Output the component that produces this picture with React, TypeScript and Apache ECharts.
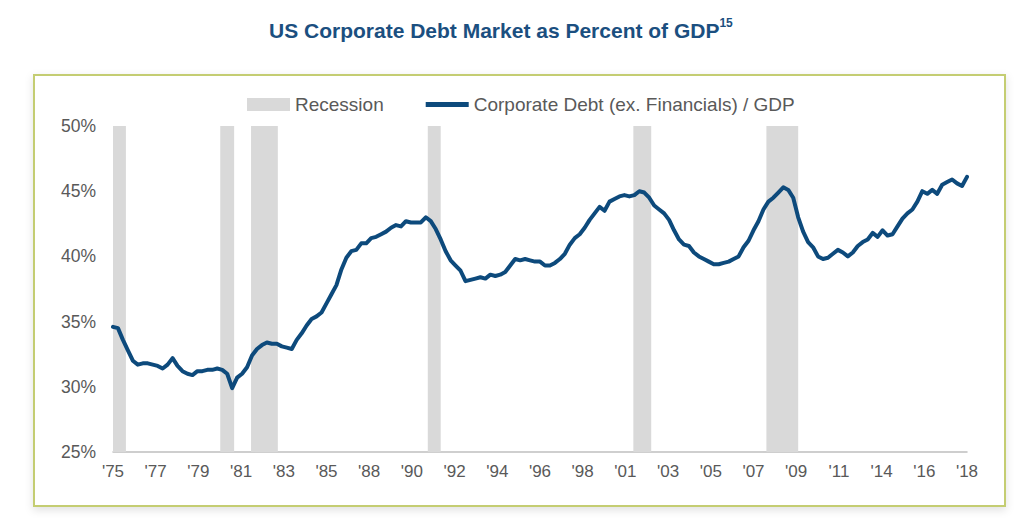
import React, { useEffect, useRef } from "react";
import * as echarts from "echarts";

// Quarterly ratio of corporate debt (ex. financials) to GDP, in %, from 1975Q1 to 2018Q1
const debtToGdp: number[] = [
  34.6, 34.5, 33.6, 32.8, 32.0, 31.7, 31.8, 31.8, 31.7, 31.6,
  31.4, 31.7, 32.2, 31.6, 31.2, 31.0, 30.9, 31.2, 31.2, 31.3,
  31.3, 31.4, 31.3, 31.0, 29.9, 30.7, 31.0, 31.5, 32.4, 32.9,
  33.2, 33.4, 33.3, 33.3, 33.1, 33.0, 32.9, 33.6, 34.1, 34.7,
  35.2, 35.4, 35.7, 36.4, 37.1, 37.8, 39.0, 39.9, 40.4, 40.5,
  41.0, 41.0, 41.4, 41.5, 41.7, 41.9, 42.2, 42.4, 42.3, 42.7,
  42.6, 42.6, 42.6, 43.0, 42.7, 42.1, 41.3, 40.4, 39.7, 39.3,
  38.9, 38.1, 38.2, 38.3, 38.4, 38.3, 38.6, 38.5, 38.6, 38.8,
  39.3, 39.8, 39.7, 39.8, 39.7, 39.6, 39.6, 39.3, 39.3, 39.5,
  39.8, 40.2, 40.9, 41.4, 41.7, 42.2, 42.8, 43.3, 43.8, 43.5,
  44.2, 44.4, 44.6, 44.7, 44.6, 44.7, 45.0, 44.9, 44.5, 43.9,
  43.6, 43.3, 42.8, 42.0, 41.3, 40.9, 40.8, 40.3, 40.0, 39.8,
  39.6, 39.4, 39.4, 39.5, 39.6, 39.8, 40.0, 40.7, 41.2, 42.0,
  42.7, 43.6, 44.2, 44.5, 44.9, 45.3, 45.1, 44.5, 43.0, 41.9,
  41.1, 40.7, 40.0, 39.8, 39.9, 40.2, 40.5, 40.3, 40.0, 40.3,
  40.8, 41.1, 41.3, 41.8, 41.5, 42.0, 41.6, 41.7, 42.3, 42.9,
  43.3, 43.6, 44.2, 45.0, 44.8, 45.1, 44.8, 45.5, 45.7, 45.9,
  45.6, 45.4, 46.1,
];

const baseYear = 1975;
const endYear = 2018;

// Recession periods (fractional years)
const recessionStart: number[] = [1975.0, 1980.4, 1981.95, 1990.85, 2001.2, 2007.9];
const recessionEnd: number[] = [1975.65, 1981.1, 1983.3, 1991.5, 2002.1, 2009.5];

// X axis tick labels (evenly spaced across the time range)
const xTickLabels: string[] = [
  "'75", "'77", "'79", "'81", "'83", "'85", "'88", "'90", "'92", "'94", "'96",
  "'98", "'01", "'03", "'05", "'07", "'09", "'11", "'14", "'16", "'18",
];

const seriesName = "Corporate Debt (ex. Financials) / GDP";
const recessionName = "Recession";

export default function App() {
  const ref = useRef<HTMLDivElement>(null);

  useEffect(() => {
    if (!ref.current) return;
    const chart = echarts.init(ref.current, undefined, { renderer: "svg" });
    const span = endYear - baseYear;
    const tickStep = span / (xTickLabels.length - 1);
    const lineData = debtToGdp.map((v, i) => [i / 4, v]);
    const areas = recessionStart.map((s, i) => [
      { xAxis: s - baseYear },
      { xAxis: recessionEnd[i] - baseYear },
    ]);

    const font = "'Liberation Sans', Arial, Helvetica, sans-serif";

    chart.setOption({
      animation: false,
      backgroundColor: "#ffffff",
      textStyle: { fontFamily: font },
      title: {
        text: "{a|US Corporate Debt Market as Percent of GDP}{s|15}",
        left: 264,
        top: 12,
        textStyle: {
          rich: {
            a: {
              fontFamily: font,
              fontSize: 21,
              fontWeight: "bold",
              color: "#1b4f80",
              lineHeight: 26,
            },
            s: {
              fontFamily: font,
              fontSize: 12,
              fontWeight: "bold",
              color: "#1b4f80",
              verticalAlign: "top",
              lineHeight: 16,
            },
          },
        },
      },
      graphic: [
        {
          type: "rect",
          z: -10,
          silent: true,
          shape: { x: 34, y: 75, width: 971, height: 431 },
          style: {
            fill: "#ffffff",
            stroke: "#c4cd72",
            lineWidth: 2,
            shadowBlur: 8,
            shadowColor: "rgba(0,0,0,0.12)",
            shadowOffsetY: 3,
          },
        },
      ],
      legend: {
        left: 247,
        top: 95,
        padding: 0,
        itemWidth: 43,
        itemHeight: 13,
        itemGap: 42,
        textStyle: { fontFamily: font, fontSize: 19, color: "#595959" },
        data: [
          { name: recessionName, icon: "rect" },
          { name: seriesName, icon: "path://M0,0 H43 V5 H0 Z" },
        ],
      },
      grid: { left: 113, right: 57, top: 126, bottom: 80, containLabel: false },
      xAxis: {
        type: "value",
        min: 0,
        max: span,
        interval: tickStep,
        axisLine: { show: true, lineStyle: { color: "#bfbfbf", width: 1.5 } },
        axisTick: { show: false },
        splitLine: { show: false },
        axisLabel: {
          color: "#595959",
          fontSize: 17,
          fontFamily: font,
          margin: 11,
          formatter: (v: number) => xTickLabels[Math.round(v / tickStep)] ?? "",
        },
      },
      yAxis: {
        type: "value",
        min: 25,
        max: 50,
        interval: 5,
        axisLine: { show: false },
        axisTick: { show: false },
        splitLine: { show: false },
        axisLabel: {
          color: "#595959",
          fontSize: 17.5,
          fontFamily: font,
          margin: 17,
          formatter: "{value}%",
        },
      },
      series: [
        {
          name: recessionName,
          type: "line",
          data: [],
          z: 1,
          color: "#d9d9d9",
          itemStyle: { color: "#d9d9d9" },
          lineStyle: { color: "#d9d9d9" },
          symbol: "none",
          markArea: {
            silent: true,
            itemStyle: { color: "#d9d9d9", opacity: 1 },
            data: areas,
          },
        },
        {
          name: seriesName,
          type: "line",
          data: lineData,
          z: 5,
          color: "#0d4a7c",
          symbol: "none",
          showSymbol: false,
          lineStyle: { color: "#0d4a7c", width: 4, cap: "round", join: "round" },
        },
      ],
    });

    return () => chart.dispose();
  }, []);

  return (
    <div
      ref={ref}
      style={{ position: "fixed", left: 0, top: 0, width: 1024, height: 532 }}
    />
  );
}
